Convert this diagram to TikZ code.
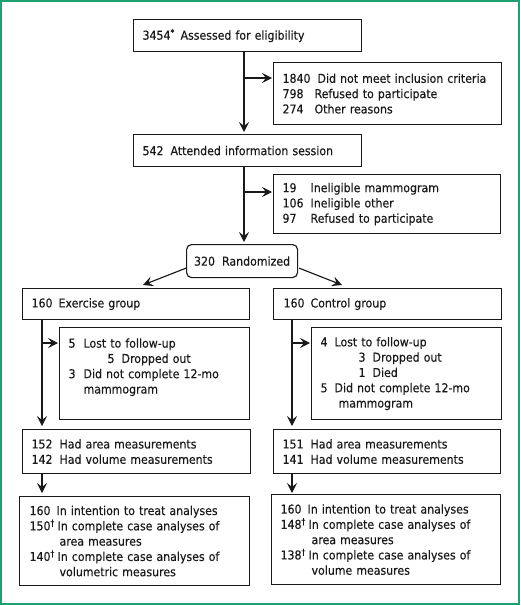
\documentclass[tikz,border=0pt]{standalone}
\usepackage{fontspec}
\setmainfont{DejaVu Sans}[FakeStretch=0.9,FakeBold=0.3]
\usetikzlibrary{arrows.meta,calc}
\newcommand\nb[2][28pt]{\makebox[#1][l]{#2}}
\definecolor{framegreen}{RGB}{30,160,112}
\definecolor{ink}{RGB}{25,25,25}
\begin{document}
\begin{tikzpicture}[x=1pt,y=-1pt,
  every node/.style={font=\fontsize{12.2}{15.3}\selectfont, text=ink},
  box/.style={draw=ink, line width=1.15pt, rectangle, anchor=north west, inner ysep=0pt, align=left},
  arr/.style={-{Stealth[length=10pt,width=10pt,inset=4pt]}, line width=1.15pt, draw=ink},
]
\useasboundingbox (0,0) rectangle (520,605);
\draw[framegreen, line width=2pt] (1,1) rectangle (519,604);

\node[box, minimum width=228pt, minimum height=32pt, text width=210pt, inner xsep=9pt] (b1) at (133,19)
  {\nb[38pt]{3454\textsuperscript{*}}Assessed for eligibility};
\node[box, minimum width=228pt, minimum height=62pt, text width=210pt, inner xsep=9pt] (ex1) at (273,62)
  {\nb[35pt]{1840}Did not meet inclusion criteria\\
   \nb[32pt]{798}Refused to participate\\
   \nb[32pt]{274}Other reasons};
\node[box, minimum width=228pt, minimum height=32pt, text width=210pt, inner xsep=9pt] (b2) at (133,134)
  {\nb{542}Attended information session};
\node[box, minimum width=227pt, minimum height=59pt, text width=209pt, inner xsep=9pt] (ex2) at (273,174)
  {\nb{19}Ineligible mammogram\\
   \nb{106}Ineligible other\\
   \nb{97}Refused to participate};
\node[box, rounded corners=5pt, minimum width=111pt, minimum height=33pt, inner xsep=0pt, align=center] (rand) at (186,244)
  {\nb{320}Randomized};
\node[box, minimum width=227pt, minimum height=31pt, text width=209pt, inner xsep=9pt] (exer) at (22,288)
  {\nb[27pt]{160}Exercise group};
\node[box, minimum width=228pt, minimum height=31pt, text width=208pt, inner xsep=10pt] (ctrl) at (273,288)
  {\nb[27pt]{160}Control group};
\node[box, minimum width=190pt, minimum height=92pt, text width=172pt, inner xsep=9pt] (lossL) at (59,327)
  {\nb[15pt]{5}Lost to follow-up\\
   \hspace*{39pt}\nb[14pt]{5}Dropped out\\
   \nb[15pt]{3}Did not complete 12-mo\\
   \hspace*{15pt}mammogram\\
   \mbox{}};
\node[box, minimum width=190pt, minimum height=92pt, text width=172pt, inner xsep=9pt] (lossR) at (311,327)
  {\nb[14pt]{4}Lost to follow-up\\
   \hspace*{38pt}\nb[14pt]{3}Dropped out\\
   \hspace*{38pt}\nb[14pt]{1}Died\\
   \nb[14pt]{5}Did not complete 12-mo\\
   \hspace*{18pt}mammogram};
\node[box, minimum width=228pt, minimum height=44pt, text width=210pt, inner xsep=9pt] (measL) at (22,429)
  {\nb{152}Had area measurements\\
   \nb{142}Had volume measurements};
\node[box, minimum width=227pt, minimum height=44pt, text width=209pt, inner xsep=9pt] (measR) at (273,429)
  {\nb{151}Had area measurements\\
   \nb{141}Had volume measurements};
\node[box, minimum width=230pt, minimum height=89pt, text width=210pt, inner xsep=10pt] (finL) at (19,496)
  {\nb[27pt]{160}In intention to treat analyses\\
   \nb[28pt]{150\textsuperscript{†}}In complete case analyses of\\
   \hspace*{30pt}area measures\\
   \nb[28pt]{140\textsuperscript{†}}In complete case analyses of\\
   \hspace*{30pt}volumetric measures};
\node[box, minimum width=229pt, minimum height=90pt, text width=211pt, inner xsep=9pt] (finR) at (271,494)
  {\nb[27pt]{160}In intention to treat analyses\\
   \nb[28pt]{148\textsuperscript{†}}In complete case analyses of\\
   \hspace*{31pt}area measures\\
   \nb[28pt]{138\textsuperscript{†}}In complete case analyses of\\
   \hspace*{31pt}volume measures};

\coordinate (j1) at (244,78);
\coordinate (j2) at (244,192);
\coordinate (k1) at (42,343);
\coordinate (k2) at (292,343);

\draw[arr, shorten >=2pt] (b1.south -| j1) -- (b2.north -| j1);
\draw[arr, shorten >=1pt] (j1) -- (j1 -| ex1.west);
\draw[arr, shorten >=2pt] (b2.south -| j2) -- (rand.north -| j2);
\draw[arr, shorten >=1pt] (j2) -- (j2 -| ex2.west);
\draw[arr] ($(rand.south west)+(0,-10)$) -- ($(exer.north west)+(121,-3)$);
\draw[arr] ($(rand.south east)+(1,-10)$) -- ($(ctrl.north west)+(69,-3)$);
\draw[arr, shorten >=3pt] (exer.south -| k1) -- (measL.north -| k1);
\draw[arr, shorten >=1pt] (k1) -- (k1 -| lossL.west);
\draw[arr, shorten >=3pt] (ctrl.south -| k2) -- (measR.north -| k2);
\draw[arr, shorten >=1pt] (k2) -- (k2 -| lossR.west);
\draw[arr, shorten >=3pt] (measL.south -| k1) -- (finL.north -| k1);
\draw[arr, shorten >=1pt] (measR.south -| k2) -- (finR.north -| k2);
\end{tikzpicture}
\end{document}
